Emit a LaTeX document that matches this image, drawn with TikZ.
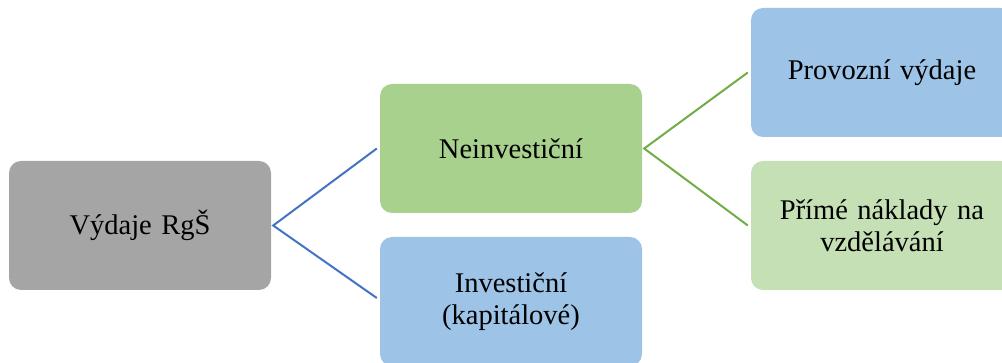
\documentclass[tikz,border=0pt]{standalone}
\usepackage{fontspec}
\setmainfont{Liberation Serif}
\definecolor{boxgray}{HTML}{A5A5A5}
\definecolor{boxgreen}{HTML}{A9D18E}
\definecolor{boxblue}{HTML}{9DC3E6}
\definecolor{boxlgreen}{HTML}{C5E0B4}
\definecolor{lineblue}{HTML}{4472C4}
\definecolor{linegreen}{HTML}{70AD47}
\begin{document}
\begin{tikzpicture}[x=1pt,y=-1pt,
  box/.style={rounded corners=12pt, minimum width=262pt, minimum height=129pt,
    inner sep=0pt, align=center, text width=250pt,
    font=\fontsize{28.5}{32}\selectfont},
  conn/.style={line width=2pt}]
\useasboundingbox (0,0) rectangle (1002,363);
\clip (0,0) rectangle (1002,363);
\node[box, fill=boxgray] (v) at (140,225.5) {Výdaje RgŠ};
\node[box, fill=boxgreen] (n) at (511,148.5) {Neinvestiční};
\node[box, fill=boxblue] (i) at (511,301.5) {Investiční\\(kapitálové)};
\node[box, fill=boxblue] (p) at (882,72.5) {Provozní výdaje};
\node[box, fill=boxlgreen] (m) at (882,225.5) {Přímé náklady na\\vzdělávání};
\coordinate (vr) at ([xshift=2pt]v.east);
\coordinate (nl) at ([xshift=-3pt]n.west);
\coordinate (il) at ([xshift=-3pt]i.west |- 0,298);
\coordinate (nr) at ([xshift=2pt]n.east);
\coordinate (pl) at ([xshift=-3pt]p.west);
\coordinate (ml) at ([xshift=-3pt]m.west);
\draw[conn, lineblue] (nl) -- (vr) -- (il);
\draw[conn, linegreen] (pl) -- (nr) -- (ml);
\end{tikzpicture}
\end{document}
